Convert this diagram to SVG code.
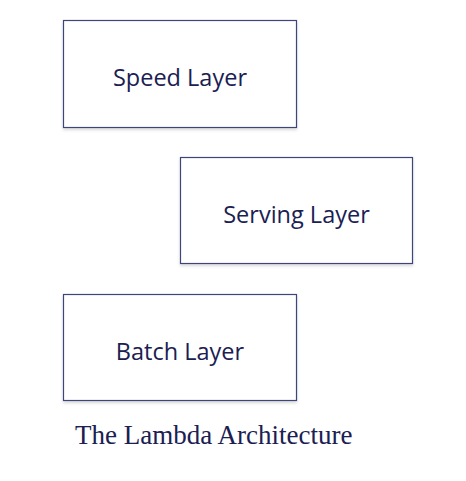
<svg xmlns="http://www.w3.org/2000/svg" width="466" height="481" viewBox="0 0 466 481">
<style>
.box{fill:#fff;stroke:#3d4479;stroke-width:1.2}
.lbl{font-family:"Open Sans","Noto Sans",sans-serif;font-size:23.5px;font-weight:500;fill:#1a2052;text-anchor:middle}
.cap{font-family:"Liberation Serif",serif;font-size:27px;fill:#1a2052}
</style>
<defs>
<filter id="sh" x="-5%" y="-5%" width="110%" height="115%"><feDropShadow dx="0" dy="2" stdDeviation="1.5" flood-color="#000" flood-opacity="0.15"/></filter>
</defs>
<rect width="466" height="481" fill="#fff"/>
<g id="connectors"></g>
<g id="speed"><rect class="box" filter="url(#sh)" x="63.5" y="20.5" width="233" height="107"/><text class="lbl" x="180" y="86">Speed Layer</text></g>
<g id="serving"><rect class="box" filter="url(#sh)" x="180.5" y="157.5" width="232" height="106"/><text class="lbl" x="296.5" y="223">Serving Layer</text></g>
<g id="batch"><rect class="box" filter="url(#sh)" x="63.5" y="294.5" width="233" height="106"/><text class="lbl" x="180" y="360">Batch Layer</text></g>
<text id="caption" class="cap" x="75" y="444">The Lambda Architecture</text>
</svg>
